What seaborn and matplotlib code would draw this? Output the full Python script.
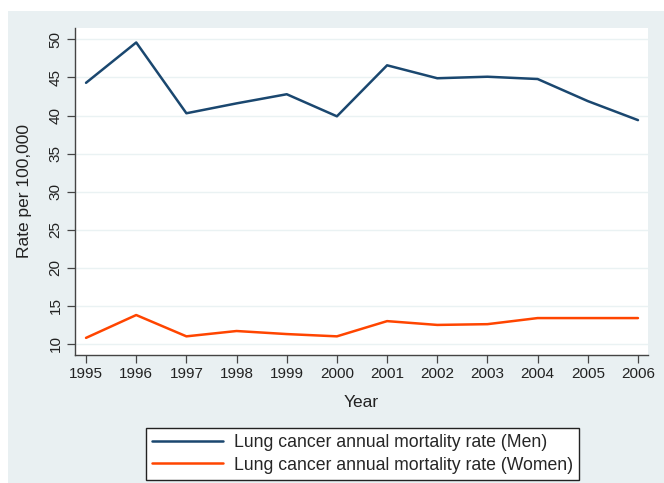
import matplotlib
matplotlib.use("Agg")
import matplotlib.pyplot as plt
from matplotlib.patches import Rectangle
import seaborn as sns
import pandas as pd

years = [1995, 1996, 1997, 1998, 1999, 2000, 2001, 2002, 2003, 2004, 2005, 2006]
men = [44.3, 49.6, 40.3, 41.6, 42.8, 39.9, 46.6, 44.9, 45.1, 44.8, 41.9, 39.4]
women = [10.8, 13.8, 11.0, 11.7, 11.3, 11.0, 13.0, 12.5, 12.6, 13.4, 13.4, 13.4]
series_names = ["Lung cancer annual mortality rate (Men)",
                "Lung cancer annual mortality rate (Women)"]
y_ticks = [10, 15, 20, 25, 30, 35, 40, 45, 50]

sns.set_style("white")
plt.rcParams['font.family'] = ['Liberation Sans', 'DejaVu Sans']

df = pd.DataFrame({
    'Year': years * 2,
    'Rate': men + women,
    'Series': [series_names[0]] * len(years) + [series_names[1]] * len(years),
})

fig = plt.figure(figsize=(6.64, 4.83), dpi=100)
fig.patch.set_facecolor('white')
# stata style outer background, kept behind the axes
bg = Rectangle((8 / 664, 0), 1, 1 - 11 / 483, transform=fig.transFigure,
               facecolor='#E9F0F2', edgecolor='none', zorder=-10)
fig.add_artist(bg)

ax = fig.add_axes([75 / 664, 1 - 355 / 483, (648 - 75) / 664, (355 - 28) / 483])
ax.set_zorder(1)
ax.set_facecolor('white')

palette = {series_names[0]: '#1A476F', series_names[1]: '#FF4500'}
sns.lineplot(data=df, x='Year', y='Rate', hue='Series', palette=palette,
             linewidth=1.8, ax=ax, legend=False)

ax.set_xlim(1994.78, 2006.2)
ax.set_ylim(8.55, 51.5)
ax.set_xticks(years)
ax.set_xticklabels([str(y) for y in years], fontsize=11, color='#222222')
ax.set_yticks(y_ticks)
ax.set_yticklabels([str(v) for v in y_ticks], fontsize=11, rotation=90,
                   va='center', color='#222222')
ax.tick_params(axis='both', direction='out', length=6, width=0.9, color='#444444',
               left=True, bottom=True, pad=3)
for v in y_ticks:
    ax.axhline(v, color='#EAF2F3', linewidth=1.0, zorder=0)

for s in ['top', 'right']:
    ax.spines[s].set_visible(False)
for s in ['left', 'bottom']:
    ax.spines[s].set_color('#444444')
    ax.spines[s].set_linewidth(1.0)

ax.set_xlabel('Year', fontsize=12.5, color='#222222', labelpad=10)
ax.set_ylabel('Rate per 100,000', fontsize=12.5, color='#222222', labelpad=12)

handles = [plt.Line2D([], [], color=palette[n], linewidth=1.8) for n in series_names]
leg = fig.legend(handles, series_names, loc='center',
                 bbox_to_anchor=(362.5 / 664, 1 - 454 / 483), fontsize=12.7,
                 frameon=True, fancybox=False, handlelength=4.0, borderpad=0.35,
                 labelspacing=0.3, handletextpad=0.6, borderaxespad=0)
leg.get_frame().set_edgecolor('#222222')
leg.get_frame().set_linewidth(1.0)
leg.get_frame().set_facecolor('white')
leg.get_frame().set_alpha(1.0)

fig.savefig('out.png', dpi=100)
